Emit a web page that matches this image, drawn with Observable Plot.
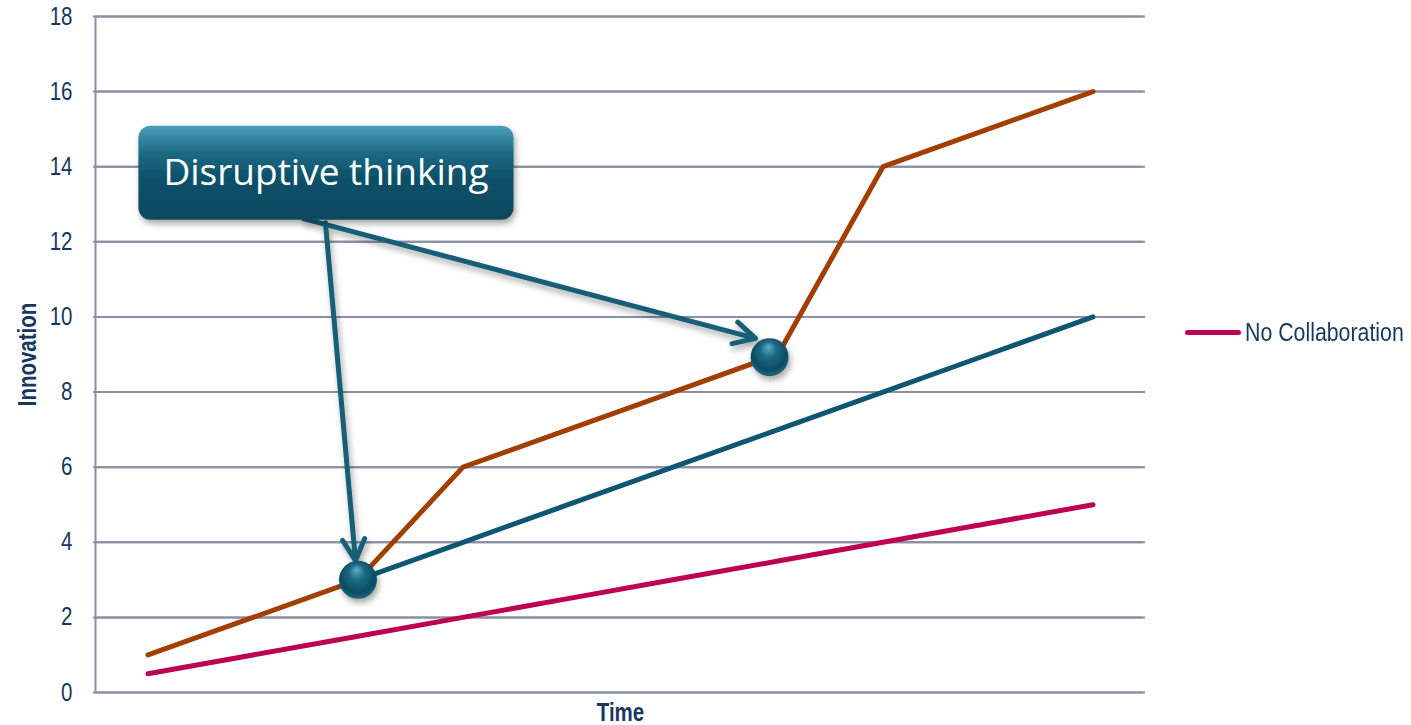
<!DOCTYPE html>
<html>
<head>
<meta charset="utf-8">
<script src="https://cdn.jsdelivr.net/npm/d3@7"></script>
<script src="https://cdn.jsdelivr.net/npm/@observablehq/plot@0.6"></script>
<style>
  body { margin: 0; background: #fff; }
  #wrap { position: relative; width: 1411px; height: 725px; }
  #legend { position: absolute; left: 1185px; top: 316px; height: 32px; display: flex; align-items: center; white-space: nowrap;
    font-family: "Liberation Sans", Arial, sans-serif; font-size: 26px; color: #17375E; }
  #legend .sw { width: 56px; height: 5px; border-radius: 3px; margin-right: 4px; flex: none; }
  #legend .lt { display: inline-block; transform: scaleX(0.82); transform-origin: left center; }
</style>
</head>
<body>
<div id="wrap">
  <div id="legend"><span class="sw"></span><span class="lt"></span></div>
</div>
<script>
// ---- data ----
const periods      = [1, 2, 3, 4, 5, 6, 7, 8, 9, 10];
const noCollab     = [0.5, 1, 1.5, 2, 2.5, 3, 3.5, 4, 4.5, 5];
const collab       = [null, null, 3, 4, 5, 6, 7, 8, 9, 10];
const disruptive   = [1, 2, 3, 6, 7, 8, 9, 14, 15, 16];
const yTicks       = [0, 2, 4, 6, 8, 10, 12, 14, 16, 18];
const xDomain      = [0.5, 10.5];
const yDomain      = [0, 18];
const legendLabel  = "No Collaboration";
const yLabel       = "Innovation";
const xLabel       = "Time";
// annotation (data coordinates)
const calloutText  = ["Disruptive thinking"];
const calloutX     = [2.695];
const calloutY     = [13.82];
const arrowX1      = [2.69, 2.48];
const arrowY1      = [12.51, 12.62];
const arrowX2      = [2.976, 6.786];
const arrowY2      = [3.51, 9.43];
const sphereX      = [3, 6.92];
const sphereY      = [3, 8.93];

// ---- styles ----
const navy = "#17375E", grid = "#8A8FA3";
const cPink = "#BE0050", cBlue = "#0F5672", cOrange = "#A23F00", cTeal = "#175E77";
const sans = "'Liberation Sans', Arial, sans-serif";

const rows = periods.map((p, i) => ({p, noCollab: noCollab[i], collab: collab[i], disruptive: disruptive[i]}));
const arrows = arrowX1.map((d, i) => ({x1: arrowX1[i], y1: arrowY1[i], x2: arrowX2[i], y2: arrowY2[i]}));
const spheres = sphereX.map((d, i) => ({x: sphereX[i], y: sphereY[i]}));
const callouts = calloutText.map((t, i) => ({t, x: calloutX[i], y: calloutY[i]}));

const chart = Plot.plot({
  width: 1411, height: 725,
  marginLeft: 95, marginRight: 266, marginTop: 16, marginBottom: 33,
  x: {type: "linear", domain: xDomain, axis: null},
  y: {domain: yDomain, axis: null},
  style: {fontFamily: sans, background: "transparent", overflow: "visible"},
  marks: [
    Plot.gridY(yTicks, {stroke: grid, strokeOpacity: 1, strokeWidth: 2}),
    Plot.ruleX([xDomain[0]], {stroke: grid, strokeWidth: 2}),
    Plot.tickY(yTicks, {y: d => d, x1: xDomain[0], dx: -2, stroke: grid, strokeWidth: 2}),
    Plot.text(yTicks, {y: d => d, frameAnchor: "left", dx: -23, textAnchor: "end", lineAnchor: "middle", fill: navy, fontSize: 25, fontFamily: sans}),
    Plot.text([yLabel], {frameAnchor: "left", rotate: -90, dx: -68, textAnchor: "middle", lineAnchor: "middle", fill: navy, fontSize: 25, fontWeight: "bold", fontFamily: sans}),
    Plot.text([xLabel], {frameAnchor: "bottom", dy: 20, textAnchor: "middle", lineAnchor: "middle", fill: navy, fontSize: 25, fontWeight: "bold", fontFamily: sans}),
    Plot.line(rows, {x: "p", y: "noCollab", stroke: cPink, strokeWidth: 5, strokeLinecap: "round", strokeLinejoin: "round"}),
    Plot.line(rows.filter(d => d.collab != null), {x: "p", y: "collab", stroke: cBlue, strokeWidth: 5, strokeLinecap: "round", strokeLinejoin: "round"}),
    Plot.line(rows, {x: "p", y: "disruptive", stroke: cOrange, strokeWidth: 5, strokeLinecap: "round", strokeLinejoin: "round"}),
    Plot.arrow(arrows, {x1: "x1", y1: "y1", x2: "x2", y2: "y2", stroke: cTeal, strokeWidth: 5, headLength: 7.2, headAngle: 55, strokeLinecap: "round"}),
    Plot.dot(spheres, {x: "x", y: "y", r: 19, fill: "url(#sphereGrad)", stroke: "none"}),
    Plot.text(callouts, {x: "x", y: "y", text: "t", fill: "white", fontSize: 37, fontFamily: "'Open Sans', 'Noto Sans', sans-serif"})
  ]
});

document.getElementById("wrap").prepend(chart);
document.querySelector("#legend .sw").style.background = cPink;
document.querySelector("#legend .lt").textContent = legendLabel;

// defs: gradients and shadows
const svg = d3.select(chart);
const defs = svg.insert("defs", ":first-child");
const rg = defs.append("radialGradient").attr("id", "sphereGrad")
  .attr("cx", "50%").attr("cy", "45%").attr("r", "60%").attr("fx", "46%").attr("fy", "22%");
rg.append("stop").attr("offset", "0%").attr("stop-color", "#5FAFC6");
rg.append("stop").attr("offset", "35%").attr("stop-color", "#1C6A84");
rg.append("stop").attr("offset", "75%").attr("stop-color", "#0C4C62");
rg.append("stop").attr("offset", "100%").attr("stop-color", "#1E6F88");
const lg = defs.append("linearGradient").attr("id", "boxGrad").attr("x1", 0).attr("y1", 0).attr("x2", 0).attr("y2", 1);
lg.append("stop").attr("offset", "0%").attr("stop-color", "#4A9FBB");
lg.append("stop").attr("offset", "30%").attr("stop-color", "#1C6882");
lg.append("stop").attr("offset", "55%").attr("stop-color", "#0D5169");
lg.append("stop").attr("offset", "100%").attr("stop-color", "#0A495F");
const f = defs.append("filter").attr("id", "shadow").attr("x", "-30%").attr("y", "-30%").attr("width", "160%").attr("height", "170%");
f.append("feDropShadow").attr("dx", 2).attr("dy", 4).attr("stdDeviation", 3).attr("flood-color", "#000").attr("flood-opacity", 0.35);

svg.selectAll('g[aria-label="dot"]').attr("filter", "url(#shadow)");
svg.selectAll('g[aria-label="arrow"]').attr("filter", "url(#shadow)");

// condense the axis texts (Arial Narrow look)
svg.selectAll("text").filter(function () { return this.textContent !== calloutText[0]; }).each(function () {
  const t = this.getAttribute("transform") || "";
  this.setAttribute("transform", (t + " scale(0.82,1)").trim());
});

// callout box behind its text
svg.selectAll("text").filter(function () { return this.textContent === calloutText[0]; }).each(function () {
  const bb = this.getBBox();
  const cx = bb.x + bb.width / 2, cy = bb.y + bb.height / 2;
  const w = bb.width + 50, h = 94;
  const ns = "http://www.w3.org/2000/svg";
  const r = document.createElementNS(ns, "rect");
  const tr = this.getAttribute("transform");
  if (tr) r.setAttribute("transform", tr);
  r.setAttribute("x", cx - w / 2); r.setAttribute("y", cy - h / 2 + 2);
  r.setAttribute("width", w); r.setAttribute("height", h);
  r.setAttribute("rx", 12);
  r.setAttribute("fill", "url(#boxGrad)");
  r.setAttribute("filter", "url(#shadow)");
  this.parentNode.insertBefore(r, this);
});
</script>
</body>
</html>
